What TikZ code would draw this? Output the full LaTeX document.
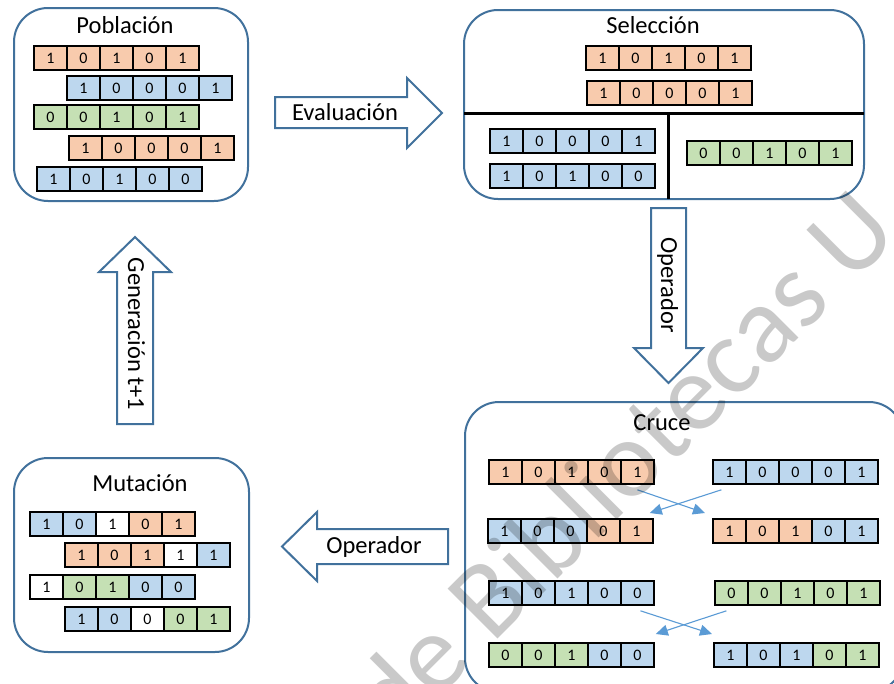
\documentclass[tikz,border=0pt]{standalone}
\usepackage{fontspec}
\setmainfont{Carlito}
\usetikzlibrary{arrows.meta}

\definecolor{panelblue}{HTML}{41719C}
\definecolor{cO}{HTML}{F8CBAD}
\definecolor{cB}{HTML}{BDD7EE}
\definecolor{cG}{HTML}{C5E0B4}
\definecolor{cW}{HTML}{FFFFFF}
\definecolor{swapblue}{HTML}{5B9BD5}

% one chromosome: name, top-left corner, list of fill/bit pairs
\newcommand\chromosome[3]{%
  \foreach \c/\b [count=\i] in {#3}{
    \node[cell, fill=\c, anchor=north west, xshift={(\i-1)*33pt}] (#1-\i) at (#2) {\b};
  }%
}

\begin{document}
\begin{tikzpicture}[x=1pt, y=-1pt,
  panel/.style={draw=panelblue, line width=2pt, rounded corners=34pt, fill=white},
  cell/.style={draw=black, line width=1.8pt, minimum width=33pt, minimum height=24pt,
    inner sep=0pt, font=\fontsize{16}{16}\selectfont},
  title/.style={font=\fontsize{24.5}{28}\selectfont, inner sep=0pt},
  blockarrow/.style={draw=panelblue, line width=2pt, fill=white, line join=miter},
  sepline/.style={draw=black, line width=3pt},
  swap/.style={draw=swapblue, line width=1.1pt, -{Triangle[length=12pt, width=11pt]}},
  stamp/.style={font=\fontsize{110}{110}\selectfont, text=black, opacity=0.21, inner sep=0pt}
]
\useasboundingbox (0,0) rectangle (894,683);
\clip (0,0) rectangle (894,683);
\fill[white] (0,0) rectangle (894,683);

% ---------- panels ----------
\draw[panel] (14,8) rectangle (248,201);
\draw[panel] (464,10) rectangle (864,199);
\draw[panel] (14,458) rectangle (249,652);
\draw[panel] (465,402) rectangle (903,692);

\node[title, anchor=base] (tpob) at (125,33) {Población};
\node[title, anchor=base] (tsel) at (653,33) {Selección};
\node[title, anchor=base] (tmut) at (140,491) {Mutación};
\node[title, anchor=base] (tcru) at (662,430) {Cruce};

% selection dividers
\draw[sepline] (464,113) -- (864,113);
\draw[sepline] (668,113) -- (668,199);

% ---------- population ----------
\chromosome{p1}{33,45}{cO/1,cO/0,cO/1,cO/0,cO/1}
\chromosome{p2}{66,75}{cB/1,cB/0,cB/0,cB/0,cB/1}
\chromosome{p3}{33,104}{cG/0,cG/0,cG/1,cG/0,cG/1}
\chromosome{p4}{68,135}{cO/1,cO/0,cO/0,cO/0,cO/1}
\chromosome{p5}{36,166}{cB/1,cB/0,cB/1,cB/0,cB/0}

% ---------- selection ----------
\chromosome{s1}{585,45}{cO/1,cO/0,cO/1,cO/0,cO/1}
\chromosome{s2}{586,80}{cO/1,cO/0,cO/0,cO/0,cO/1}
\chromosome{s3}{489,128}{cB/1,cB/0,cB/0,cB/0,cB/1}
\chromosome{s4}{489,163}{cB/1,cB/0,cB/1,cB/0,cB/0}
\chromosome{s5}{686,140}{cG/0,cG/0,cG/1,cG/0,cG/1}

% ---------- mutation ----------
\chromosome{m1}{29,511}{cB/1,cB/0,cW/1,cO/0,cO/1}
\chromosome{m2}{64,542}{cO/1,cO/0,cO/1,cW/1,cB/1}
\chromosome{m3}{29,574}{cW/1,cG/0,cG/1,cB/0,cB/0}
\chromosome{m4}{64,606}{cB/1,cB/0,cW/0,cG/0,cG/1}

% ---------- crossover ----------
\chromosome{c1}{488,459}{cO/1,cO/0,cO/1,cO/0,cO/1}
\chromosome{c2}{712,459}{cB/1,cB/0,cB/0,cB/0,cB/1}
\chromosome{c3}{487,518}{cB/1,cB/0,cB/0,cO/0,cO/1}
\chromosome{c4}{712,518}{cO/1,cO/0,cO/1,cB/0,cB/1}
\chromosome{c5}{488,580}{cB/1,cB/0,cB/1,cB/0,cB/0}
\chromosome{c6}{714,580}{cG/0,cG/0,cG/1,cG/0,cG/1}
\chromosome{c7}{488,642}{cG/0,cG/0,cG/1,cB/0,cB/0}
\chromosome{c8}{713,642}{cB/1,cB/0,cB/1,cG/0,cG/1}

\draw[swap] ([yshift=-5pt]c1-5.south) -- ([xshift=-7pt, yshift=5pt]c4-1.north west);
\draw[swap] ([xshift=-8pt, yshift=-5pt]c2-1.south) -- ([xshift=-4pt, yshift=5pt]c3-5.north east);
\draw[swap] ([xshift=3pt, yshift=-5pt]c5-5.south) -- ([xshift=-1pt, yshift=8pt]c8-1.north west);
\draw[swap] ([xshift=-5pt, yshift=-5pt]c6-1.south) -- ([xshift=1pt, yshift=8pt]c7-5.north east);

% ---------- block arrows ----------
\draw[blockarrow] (275,97) -- (407,97) -- (407,78) -- (442,113) -- (407,148) -- (407,128) -- (275,128) -- cycle;
\node[title, anchor=base] (eval) at (345,120) {Evaluación};

\draw[blockarrow] (651,208) -- (686,208) -- (686,348) -- (703,348) -- (668.5,383) -- (634,348) -- (651,348) -- cycle;
\node[title, anchor=base, rotate=-90] (opdown) at (661,285) {Operador};

\draw[blockarrow] (448,529) -- (317,529) -- (317,512) -- (282,546.5) -- (317,581) -- (317,564) -- (448,564) -- cycle;
\node[title, anchor=base] (opleft) at (374,553) {Operador};

\draw[blockarrow] (117,424) -- (117,272) -- (99,272) -- (135,237) -- (171,272) -- (153,272) -- (153,424) -- cycle;
\node[title, anchor=base, rotate=-90] (gen) at (128,334) {Generación t+1};

% ---------- overlay lettering ----------
\node[stamp, anchor=base west, rotate=45] (stampline) at (395,742) {de Bibliotecas U};
\end{tikzpicture}
\end{document}
